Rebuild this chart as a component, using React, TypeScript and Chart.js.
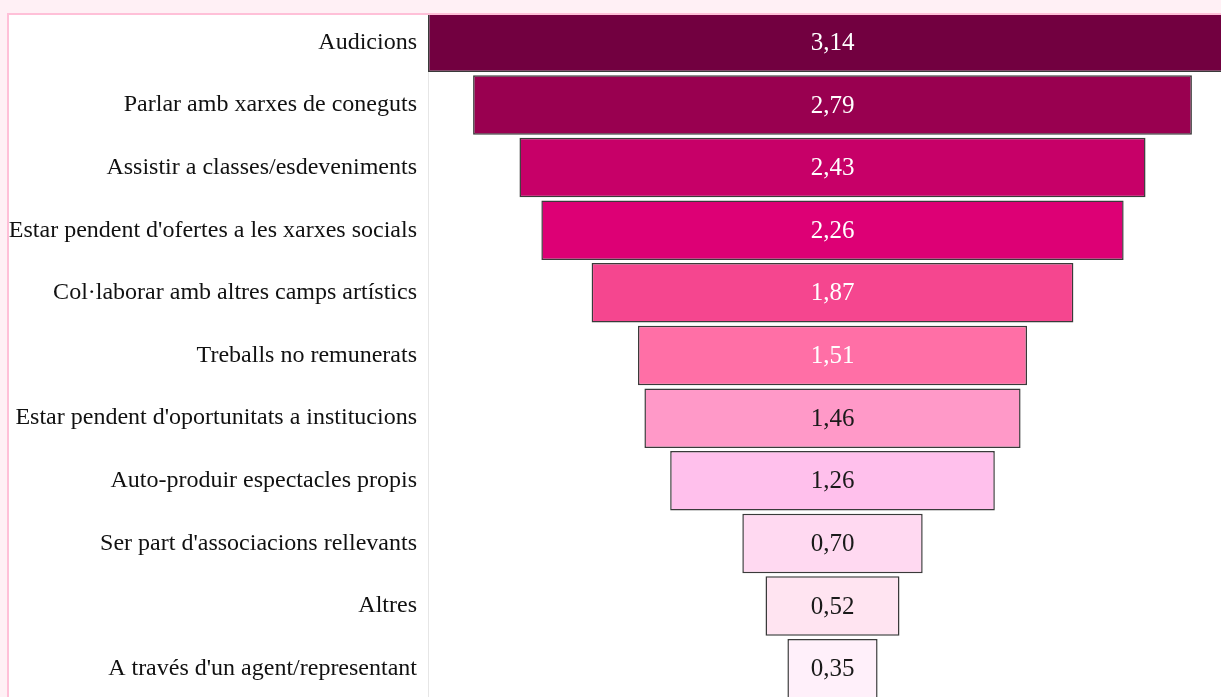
import React, { useEffect, useRef } from "react";
import { Chart, registerables } from "chart.js";

Chart.register(...registerables);

const categories = [
  "Audicions",
  "Parlar amb xarxes de coneguts",
  "Assistir a classes/esdeveniments",
  "Estar pendent d'ofertes a les xarxes socials",
  "Col·laborar amb altres camps artístics",
  "Treballs no remunerats",
  "Estar pendent d'oportunitats a institucions",
  "Auto-produir espectacles propis",
  "Ser part d'associacions rellevants",
  "Altres",
  "A través d'un agent/representant",
];

const values = [3.14, 2.79, 2.43, 2.26, 1.87, 1.51, 1.46, 1.26, 0.7, 0.52, 0.35];

const barColors = [
  "#720040",
  "#990050",
  "#c70068",
  "#dd0075",
  "#f5468f",
  "#ff6fa6",
  "#ff99c8",
  "#ffc0ec",
  "#ffd9f1",
  "#ffe4f1",
  "#fff0fa",
];

const labelColors = [
  "#ffffff",
  "#ffffff",
  "#ffffff",
  "#ffffff",
  "#ffffff",
  "#ffffff",
  "#1a1a1a",
  "#1a1a1a",
  "#1a1a1a",
  "#1a1a1a",
  "#1a1a1a",
];

const maxValue = Math.max(...values);
const center = maxValue / 2;

const valueLabelPlugin = {
  id: "valueLabels",
  afterDatasetsDraw(chart: any) {
    const ctx = chart.ctx;
    const meta = chart.getDatasetMeta(0);
    ctx.save();
    ctx.font = "25px 'Liberation Serif', 'Times New Roman', serif";
    ctx.textAlign = "center";
    ctx.textBaseline = "middle";
    meta.data.forEach((el: any, i: number) => {
      const p = el.getCenterPoint();
      ctx.fillStyle = labelColors[i];
      ctx.fillText(values[i].toFixed(2).replace(".", ","), p.x, p.y + 1);
    });
    ctx.restore();
  },
};

export default function App() {
  const canvasRef = useRef<HTMLCanvasElement | null>(null);

  useEffect(() => {
    if (!canvasRef.current) return;
    const chart = new Chart(canvasRef.current, {
      type: "bar",
      data: {
        labels: categories,
        datasets: [
          {
            data: values.map((v) => [center - v / 2, center + v / 2]) as any,
            backgroundColor: barColors,
            borderColor: "#3a3a3a",
            borderWidth: 1.5,
            borderSkipped: false,
            barPercentage: 0.95,
            categoryPercentage: 1,
          },
        ],
      },
      options: {
        indexAxis: "y",
        animation: false,
        responsive: false,
        maintainAspectRatio: false,
        layout: { padding: 0 },
        plugins: {
          legend: { display: false },
          tooltip: { enabled: false },
        },
        scales: {
          x: {
            display: false,
            min: 0,
            max: maxValue,
          },
          y: {
            afterFit: (scale: any) => {
              scale.width = 419;
              scale.paddingTop = 0;
              scale.paddingBottom = 0;
            },
            grid: { display: false, drawTicks: false },
            border: { display: true, color: "#e6e6e6", width: 1 },
            ticks: {
              padding: 11,
              color: "#111111",
              font: { family: "'Liberation Serif', 'Times New Roman', serif", size: 24 },
            },
          },
        },
      },
      plugins: [valueLabelPlugin],
    });
    return () => chart.destroy();
  }, []);

  return (
    <div
      style={{
        position: "fixed",
        inset: 0,
        background: "#fff0f5",
        overflow: "hidden",
      }}
    >
      <div
        style={{
          position: "absolute",
          left: 7,
          top: 13,
          width: 1300,
          height: 800,
          border: "2px solid #ffc0d8",
          background: "#ffffff",
          overflow: "hidden",
        }}
      >
        <canvas
          ref={canvasRef}
          width={1228}
          height={689}
          style={{ position: "absolute", left: 0, top: -4, width: 1228, height: 689 }}
        />
      </div>
    </div>
  );
}
